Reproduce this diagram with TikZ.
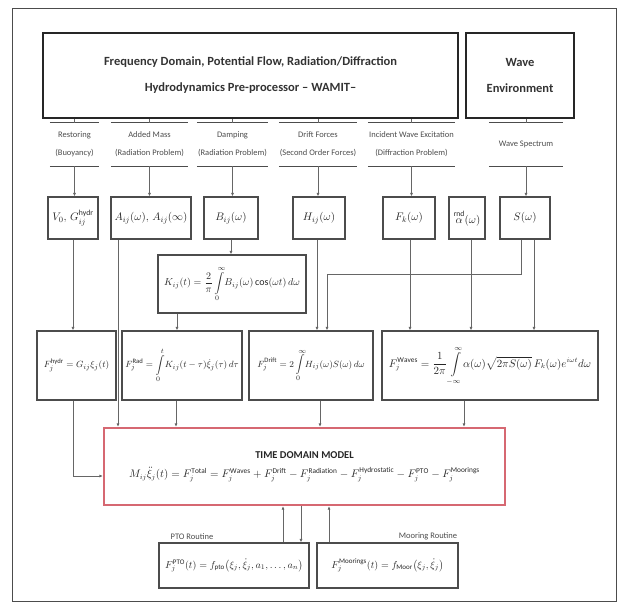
\documentclass[tikz,border=0pt]{standalone}
\usepackage{amsmath}
\usepackage{fontspec}
\setmainfont{Carlito}
\usetikzlibrary{arrows.meta,calc}
\definecolor{tdmred}{RGB}{214,104,114}
\begin{document}
\begin{tikzpicture}[x=1pt,y=-1pt,
  topbox/.style={draw=black!85, line width=2.6pt, inner sep=0pt, align=center, font=\fontsize{12.5}{26}\selectfont\bfseries, text=black!80},
  lab/.style={inner sep=0pt, align=center, font=\fontsize{8.5}{18}\selectfont, text=black!70},
  bx/.style={draw=black!70, line width=1.1pt, inner sep=0pt, align=center, font=\fontsize{9.5}{11}\selectfont, text=black!85},
  bxl/.style={bx, font=\fontsize{11}{13}\selectfont},
  ln/.style={draw=black!60, line width=0.7pt},
  arr/.style={ln, -{Latex[length=3.5pt,width=3pt]}},
  bar/.style={draw=black!70, line width=1.2pt},
]
\useasboundingbox (0,0) rectangle (617,608);
\draw[black!70, line width=0.9pt] (12,8) rectangle (616,601);

% top boxes
\node[topbox, minimum width=415, minimum height=85] (main) at (250.5,75.5)
  {Frequency Domain, Potential Flow, Radiation/Diffraction\\Hydrodynamics Pre-processor -- WAMIT--};
\node[topbox, minimum width=108, minimum height=85] (wave) at (520,75.5)
  {Wave\\Environment};

% labels between bars
\node[lab, minimum width=49, minimum height=43] (l1) at (74.5,144.5) {Restoring\\(Buoyancy)};
\node[lab, minimum width=77, minimum height=43] (l2) at (149.5,144.5) {Added Mass\\(Radiation Problem)};
\node[lab, minimum width=71, minimum height=43] (l3) at (232.5,144.5) {Damping\\(Radiation Problem)};
\node[lab, minimum width=78, minimum height=43] (l4) at (318,144.5) {Drift Forces\\(Second Order Forces)};
\node[lab, minimum width=87, minimum height=43] (l5) at (411.5,144.5) {Incident Wave Excitation\\(Diffraction Problem)};
\node[lab, minimum width=74, minimum height=43] (l6) at (526,144.5) {Wave Spectrum};
\foreach \l in {l1,l2,l3,l4,l5,l6}{
  \draw[bar] (\l.north west) -- (\l.north east);
  \draw[bar] (\l.south west) -- (\l.south east);
}

% row 1
\node[bxl, minimum width=50, minimum height=42] (v0) at (73,218) {$V_0,\,G_{ij}^{\mathrm{hydr}}$};
\node[bxl, minimum width=80, minimum height=42] (a) at (151,218) {$A_{ij}(\omega),\,A_{ij}(\infty)$};
\node[bxl, minimum width=54, minimum height=42] (b) at (231,218) {$B_{ij}(\omega)$};
\node[bxl, minimum width=52, minimum height=42] (h) at (319,218) {$H_{ij}(\omega)$};
\node[bxl, minimum width=52, minimum height=42] (f) at (409,218) {$F_{k}(\omega)$};
\node[bxl, minimum width=36, minimum height=42] (al) at (467,218) {$\overset{\mathrm{rnd}}{\alpha}(\omega)$};
\node[bxl, minimum width=50, minimum height=42] (s) at (525,218) {$S(\omega)$};

% K box
\node[bx, minimum width=148, minimum height=58, font=\fontsize{10}{12}\selectfont] (k) at (232,284)
  {$\displaystyle K_{ij}(t)=\frac{2}{\pi}\int\limits_0^{\infty}\! B_{ij}(\omega)\cos(\omega t)\,d\omega$};

% row 2
\node[bx, minimum width=79, minimum height=69] (fh) at (76.5,365.5) {$F_j^{\mathrm{hydr}}=G_{ij}\xi_j(t)$};
\node[bx, minimum width=120, minimum height=69] (fr) at (182,365.5)
  {$\displaystyle F_j^{\mathrm{Rad}}=\int\limits_0^{t}\! K_{ij}(t-\tau)\dot{\xi}_j(\tau)\,d\tau$};
\node[bx, minimum width=124, minimum height=69] (fd) at (311,365.5)
  {$\displaystyle F_j^{\mathrm{Drift}}=2\int\limits_0^{\infty}\! H_{ij}(\omega)S(\omega)\,d\omega$};
\node[bx, minimum width=216, minimum height=69, font=\fontsize{10.5}{12}\selectfont] (fw) at (490,365.5)
  {$\displaystyle F_j^{\mathrm{Waves}}=\frac{1}{2\pi}\int\limits_{-\infty}^{\infty}\!\alpha(\omega)\sqrt{2\pi S(\omega)}\,F_k(\omega)e^{i\omega t}d\omega$};

% time domain model
\node[draw=tdmred, line width=2.2pt, inner sep=0pt, minimum width=401, minimum height=77, align=center,
      font=\fontsize{10.5}{12}\selectfont, text=black!85] (tdm) at (304.5,466.5)
  {{\bfseries TIME DOMAIN MODEL}\\[7pt]
   $M_{ij}\ddot{\xi}_j(t)=F_j^{\mathrm{Total}}=F_j^{\mathrm{Waves}}+F_j^{\mathrm{Drift}}-F_j^{\mathrm{Radiation}}-F_j^{\mathrm{Hydrostatic}}-F_j^{\mathrm{PTO}}-F_j^{\mathrm{Moorings}}$};

% bottom routines
\node[bx, minimum width=150, minimum height=45, font=\fontsize{10}{12}\selectfont] (pto) at (234,565.5)
  {$F_j^{\mathrm{PTO}}(t)=f_{\mathrm{pto}}\bigl(\xi_j,\dot{\xi}_j,a_1,\ldots,a_n\bigr)$};
\node[bx, minimum width=141, minimum height=45, font=\fontsize{10}{12}\selectfont] (moor) at (387.5,565.5)
  {$F_j^{\mathrm{Moorings}}(t)=f_{\mathrm{Moor}}\bigl(\xi_j,\dot{\xi}_j\bigr)$};
\node[lab, anchor=south] (ptol) at (192,540) {PTO Routine};
\node[lab, anchor=south] (moorl) at (428,540) {Mooring Routine};

% column coordinates
\coordinate (xa) at (118,0);
\coordinate (xk) at (177,0);
\coordinate (xh) at (317,0);
\coordinate (xs1) at (521,0);
\coordinate (xs2) at (534,0);
\coordinate (xsd) at (327,0);
\coordinate (yS) at (0,274);
\coordinate (xf) at (410,0);
\coordinate (xal) at (471,0);
\coordinate (xfh) at (73,0);
\coordinate (yh) at (0,476);
\coordinate (xfr) at (176,0);
\coordinate (xfd) at (320,0);
\coordinate (xfw) at (464,0);
\coordinate (xp1) at (283,0);
\coordinate (xp2) at (301,0);
\coordinate (xm) at (329,0);

% connectors top -> labels
\foreach \l in {l1,l2,l3,l4,l5}
  \draw[ln, line width=0.9pt] (\l.north |- main.south) -- (\l.north);
\draw[ln, line width=0.9pt] (l6.north |- wave.south) -- (l6.north);
\foreach \l/\t in {l1/v0,l2/a,l3/b,l4/h,l5/f,l6/s}
  \draw[arr] (\l.south) -- (\l.south |- \t.north);

% row1 -> row2
\draw[arr] (v0.south) -- (v0.south |- fh.north);
\draw[arr] (a.south -| xa) -- (tdm.north -| xa);
\draw[arr] (b.south) -- (b.south |- k.north);
\draw[arr] (k.south -| xk) -- (fr.north -| xk);
\draw[arr] (h.south -| xh) -- (fd.north -| xh);
\draw[arr] (s.south -| xs1) -- (xs1 |- yS) -- (xsd |- yS) -- (fd.north -| xsd);
\draw[arr] (f.south -| xf) -- (fw.north -| xf);
\draw[arr] (al.south -| xal) -- (fw.north -| xal);
\draw[arr] (s.south -| xs2) -- (fw.north -| xs2);

% row2 -> tdm
\draw[arr] (fh.south -| xfh) |- (tdm.west |- yh);
\draw[arr] (fr.south -| xfr) -- (tdm.north -| xfr);
\draw[arr] (fd.south -| xfd) -- (tdm.north -| xfd);
\draw[arr] (fw.south -| xfw) -- (tdm.north -| xfw);

% routines
\draw[arr] (pto.north -| xp1) -- (tdm.south -| xp1);
\draw[arr] (tdm.south -| xp2) -- (pto.north -| xp2);
\draw[arr] (moor.north -| xm) -- (tdm.south -| xm);
\end{tikzpicture}
\end{document}
